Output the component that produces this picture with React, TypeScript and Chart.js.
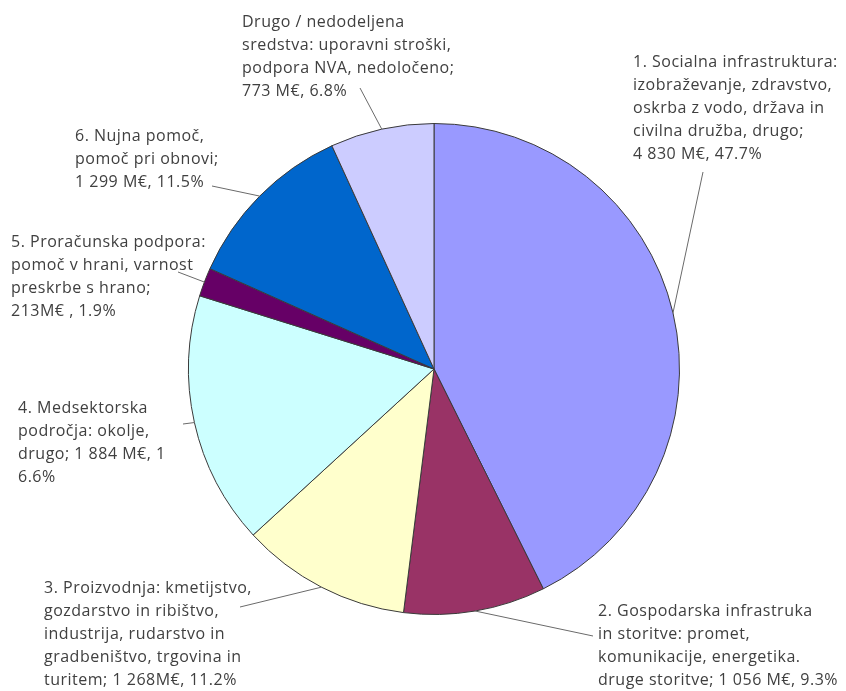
import React, { useEffect, useRef } from "react";
import { Chart, registerables } from "chart.js";

Chart.register(...registerables);

const categories = [
  "1. Socialna infrastruktura",
  "2. Gospodarska infrastruka in storitve",
  "3. Proizvodnja",
  "4. Medsektorska področja",
  "5. Proračunska podpora",
  "6. Nujna pomoč",
  "Drugo / nedodeljena sredstva",
];

const valuesMEUR = [4830, 1056, 1268, 1884, 213, 1299, 773];

const labelLines: string[][] = [
  [
    "1. Socialna infrastruktura:",
    "izobraževanje, zdravstvo,",
    "oskrba z vodo, država in",
    "civilna družba, drugo;",
    "4 830 M€, 47.7%",
  ],
  [
    "2. Gospodarska infrastruka",
    "in storitve: promet,",
    "komunikacije, energetika.",
    "druge storitve; 1 056 M€, 9.3%",
  ],
  [
    "3. Proizvodnja: kmetijstvo,",
    "gozdarstvo in ribištvo,",
    "industrija, rudarstvo in",
    "gradbeništvo, trgovina in",
    "turitem; 1 268M€, 11.2%",
  ],
  [
    "4. Medsektorska",
    "področja: okolje,",
    "drugo; 1 884 M€, 1",
    "6.6%",
  ],
  [
    "5. Proračunska podpora:",
    "pomoč v hrani, varnost",
    "preskrbe s hrano;",
    "213M€ , 1.9%",
  ],
  ["6. Nujna pomoč,", "pomoč pri obnovi;", "1 299 M€, 11.5%"],
  [
    "Drugo / nedodeljena",
    "sredstva: uporavni stroški,",
    "podpora NVA, nedoločeno;",
    "773 M€, 6.8%",
  ],
];

const colors = [
  "#9999ff",
  "#993366",
  "#ffffcc",
  "#ccffff",
  "#660066",
  "#0066cc",
  "#ccccff",
];

// layout: label text block (left x, first line center y) and leader end point
const labelLayout = [
  { x: 633, y: 62, ex: 703, ey: 172 },
  { x: 598, y: 611, ex: 593, ey: 636 },
  { x: 44, y: 588, ex: 240, ey: 607 },
  { x: 18, y: 408, ex: 183, ey: 424 },
  { x: 11, y: 242, ex: 178, ey: 272 },
  { x: 75, y: 136, ex: 212, ey: 186 },
  { x: 242, y: 22, ex: 360, ey: 88 },
];

const LINE_H = 23;

const labelPlugin = {
  id: "outerLabels",
  afterDatasetsDraw(chart: any) {
    const ctx = chart.ctx;
    const meta = chart.getDatasetMeta(0);
    ctx.save();
    meta.data.forEach((arc: any, i: number) => {
      const { x, y, startAngle, endAngle, outerRadius } = arc.getProps(
        ["x", "y", "startAngle", "endAngle", "outerRadius"],
        true
      );
      const mid = (startAngle + endAngle) / 2;
      const px = x + Math.cos(mid) * outerRadius;
      const py = y + Math.sin(mid) * outerRadius;
      const L = labelLayout[i];
      ctx.strokeStyle = "#6a6a6a";
      ctx.lineWidth = 1;
      ctx.beginPath();
      ctx.moveTo(px, py);
      ctx.lineTo(L.ex, L.ey);
      ctx.stroke();
      ctx.fillStyle = "#404040";
      ctx.font = "16px 'Open Sans'";
      (ctx as any).letterSpacing = "0.5px";
      ctx.textBaseline = "middle";
      ctx.textAlign = "left";
      labelLines[i].forEach((line, j) => {
        ctx.fillText(line, L.x, L.y + j * LINE_H);
      });
      (ctx as any).letterSpacing = "0px";
    });
    ctx.restore();
  },
};

export default function App() {
  const ref = useRef<HTMLCanvasElement | null>(null);
  useEffect(() => {
    if (!ref.current) return;
    const chart = new Chart(ref.current, {
      type: "pie",
      data: {
        labels: categories,
        datasets: [
          {
            data: valuesMEUR,
            backgroundColor: colors,
            borderColor: "#3a3a3a",
            borderWidth: 1,
          },
        ],
      },
      options: {
        animation: false,
        responsive: false,
        devicePixelRatio: 1,
        layout: { padding: { left: 186, right: 164, top: 123, bottom: 76 } },
        plugins: {
          legend: { display: false },
          tooltip: { enabled: false },
        },
      },
      plugins: [labelPlugin],
    });
    return () => chart.destroy();
  }, []);
  return (
    <div style={{ position: "absolute", left: 0, top: 0, width: 846, height: 691, background: "#fff" }}>
      <canvas ref={ref} width={846} height={691} style={{ width: 846, height: 691 }} />
    </div>
  );
}
